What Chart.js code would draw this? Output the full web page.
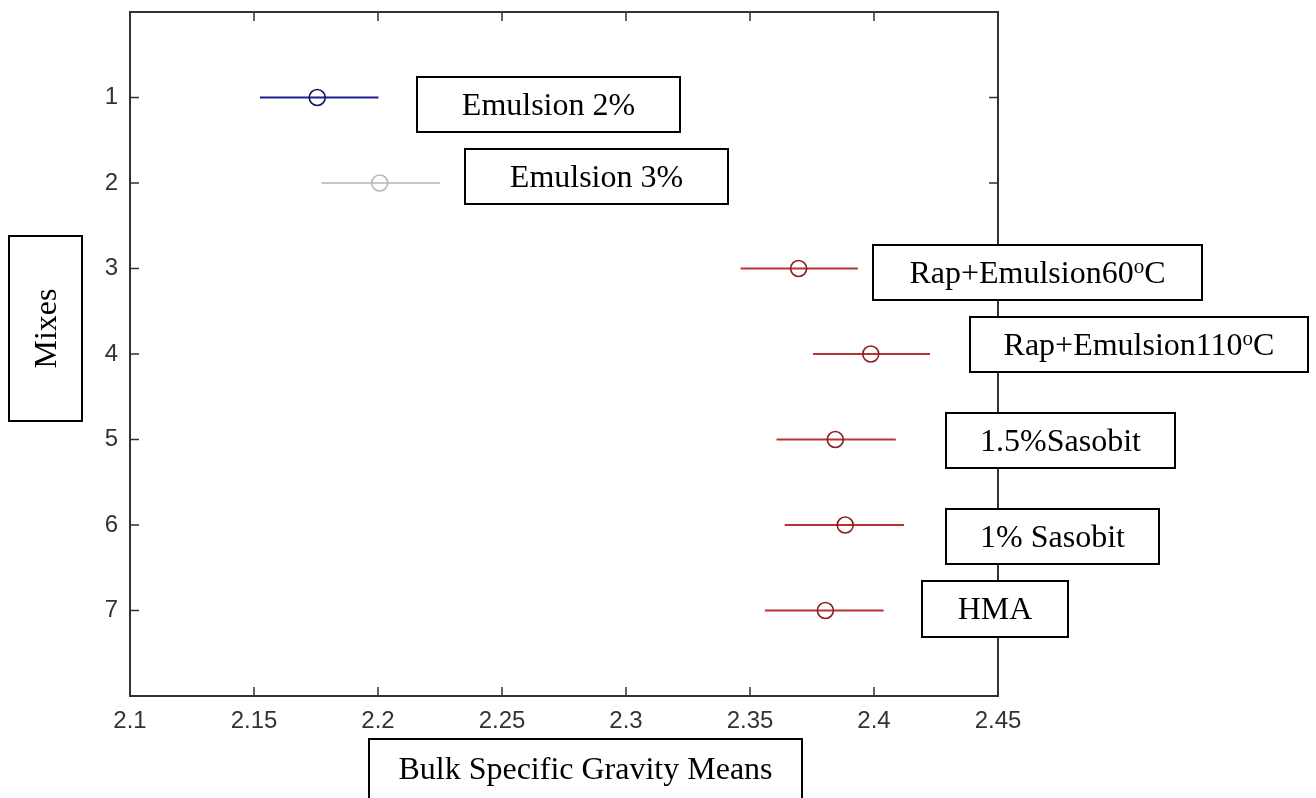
<!DOCTYPE html>
<html>
<head>
<meta charset="utf-8">
<script src="https://cdn.jsdelivr.net/npm/chart.js@4.4.1/dist/chart.umd.min.js"></script>
<style>
  html, body { margin: 0; padding: 0; background: #fff; }
  #wrap { width: 1316px; height: 798px; }
</style>
</head>
<body>
<div id="wrap"><canvas id="chart" width="1316" height="798"></canvas></div>
<script>
// values
const mixes  = [1, 2, 3, 4, 5, 6, 7];
const means  = [2.1755, 2.2007, 2.3696, 2.3987, 2.3844, 2.3884, 2.3804];
const lowers = [2.1524, 2.1772, 2.3462, 2.3754, 2.3607, 2.3640, 2.3560];
const uppers = [2.2002, 2.2251, 2.3935, 2.4226, 2.4088, 2.4121, 2.4039];
const xTicks = [2.1, 2.15, 2.2, 2.25, 2.3, 2.35, 2.4, 2.45];

// mix names, superscript split out where there is one
const mixNames = [
  ['Emulsion 2%'],
  ['Emulsion 3%'],
  ['Rap+Emulsion60', 'o', 'C'],
  ['Rap+Emulsion110', 'o', 'C'],
  ['1.5%Sasobit'],
  ['1% Sasobit'],
  ['HMA']
];
const xTitle = 'Bulk Specific Gravity Means';
const yTitle = 'Mixes';

// styling
const lineColors   = ['#1f1f8f', '#c8c8c8', '#b83434', '#b83434', '#b83434', '#b83434', '#b83434'];
const markerColors = ['#15155f', '#b8b8b8', '#8a2020', '#8a2020', '#8a2020', '#8a2020', '#8a2020'];
// label boxes: x, y, w, h in page pixels
const nameBoxes = [
  [417, 77, 263, 55],
  [465, 149, 263, 55],
  [873, 245, 329, 55],
  [970, 317, 338, 55],
  [946, 413, 229, 55],
  [946, 509, 213, 55],
  [922, 581, 146, 56]
];
const yTitleBox = [9, 236, 73, 185];
const xTitleBox = [369, 739, 433, 70];
const SERIF = '"Liberation Serif", "Times New Roman", serif';

const barSets = mixes.map((m, i) => ({
  data: [{ x: lowers[i], y: m }, { x: uppers[i], y: m }],
  showLine: true,
  borderColor: lineColors[i],
  borderWidth: 2,
  pointRadius: 0
}));

const meanSet = {
  data: mixes.map((m, i) => ({ x: means[i], y: m })),
  pointStyle: 'circle',
  pointRadius: 8,
  pointBorderWidth: 1.6,
  pointBorderColor: markerColors,
  pointBackgroundColor: 'rgba(0,0,0,0)'
};

function drawBox(ctx, r) {
  ctx.save();
  ctx.fillStyle = '#fff';
  ctx.fillRect(r[0], r[1], r[2], r[3]);
  ctx.strokeStyle = '#000';
  ctx.lineWidth = 2;
  ctx.strokeRect(r[0], r[1], r[2], r[3]);
  ctx.restore();
}

function drawName(ctx, parts, r) {
  const main = '32px ' + SERIF, sup = '21px ' + SERIF;
  ctx.save();
  ctx.fillStyle = '#000';
  ctx.textBaseline = 'alphabetic';
  ctx.textAlign = 'left';
  const widths = parts.map((p, k) => { ctx.font = k === 1 ? sup : main; return ctx.measureText(p).width; });
  const total = widths.reduce((a, b) => a + b, 0);
  let x = r[0] + (r[2] - total) / 2;
  const base = r[1] + 38;
  parts.forEach((p, k) => {
    ctx.font = k === 1 ? sup : main;
    ctx.fillText(p, x, k === 1 ? base - 10 : base);
    x += widths[k];
  });
  ctx.restore();
}

const framePlugin = {
  id: 'frame',
  afterDatasetsDraw(chart) {
    const { ctx, chartArea: a, scales } = chart;
    ctx.save();
    ctx.strokeStyle = '#333';
    ctx.lineWidth = 2;
    ctx.strokeRect(a.left, a.top, a.right - a.left, a.bottom - a.top);
    ctx.lineWidth = 1.5;
    ctx.beginPath();
    xTicks.slice(1, -1).forEach(v => {
      const px = scales.x.getPixelForValue(v);
      ctx.moveTo(px, a.bottom); ctx.lineTo(px, a.bottom - 9);
      ctx.moveTo(px, a.top); ctx.lineTo(px, a.top + 9);
    });
    mixes.forEach(v => {
      const py = scales.y.getPixelForValue(v);
      ctx.moveTo(a.left, py); ctx.lineTo(a.left + 9, py);
      ctx.moveTo(a.right, py); ctx.lineTo(a.right - 9, py);
    });
    ctx.stroke();
    ctx.restore();
  },
  afterDraw(chart) {
    const ctx = chart.ctx;
    nameBoxes.forEach((r, i) => { drawBox(ctx, r); drawName(ctx, mixNames[i], r); });

    drawBox(ctx, xTitleBox);
    ctx.save();
    ctx.font = '32px ' + SERIF;
    ctx.fillStyle = '#000';
    ctx.textAlign = 'center';
    ctx.textBaseline = 'alphabetic';
    ctx.fillText(xTitle, xTitleBox[0] + xTitleBox[2] / 2, xTitleBox[1] + 40);
    ctx.restore();

    drawBox(ctx, yTitleBox);
    ctx.save();
    ctx.font = '32px ' + SERIF;
    ctx.fillStyle = '#000';
    ctx.textAlign = 'center';
    ctx.textBaseline = 'middle';
    ctx.translate(yTitleBox[0] + yTitleBox[2] / 2 + 2, yTitleBox[1] + yTitleBox[3] / 2);
    ctx.rotate(-Math.PI / 2);
    ctx.fillText(yTitle, 0, 0);
    ctx.restore();
  }
};

const tickFont = { family: '"Liberation Sans", Arial, sans-serif', size: 24 };

new Chart(document.getElementById('chart'), {
  type: 'scatter',
  data: { datasets: [meanSet, ...barSets] },
  options: {
    responsive: false,
    animation: false,
    layout: { padding: { top: 12, right: 318, left: 0, bottom: 0 } },
    plugins: { legend: { display: false }, tooltip: { enabled: false } },
    scales: {
      x: {
        type: 'linear', min: 2.1, max: 2.45,
        afterBuildTicks: s => { s.ticks = xTicks.map(v => ({ value: v })); },
        grid: { display: false, drawTicks: false },
        border: { display: false },
        ticks: {
          padding: 11, color: '#333', font: tickFont, maxRotation: 0, autoSkip: false,
          callback: v => String(Number(v.toFixed(2)))
        },
        afterFit: s => { s.height = 102; s.paddingLeft = 0; s.paddingRight = 0; }
      },
      y: {
        type: 'linear', min: 0, max: 8, reverse: true,
        afterBuildTicks: s => { s.ticks = mixes.map(v => ({ value: v })); },
        grid: { display: false, drawTicks: false },
        border: { display: false },
        ticks: { padding: 12, color: '#333', font: tickFont, autoSkip: false },
        afterFit: s => { s.width = 130; s.paddingTop = 0; s.paddingBottom = 0; }
      }
    }
  },
  plugins: [framePlugin]
});
</script>
</body>
</html>
